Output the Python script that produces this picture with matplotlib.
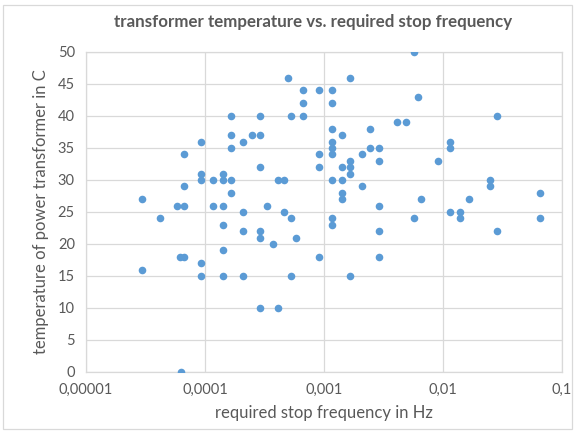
import matplotlib.pyplot as plt
from matplotlib.patches import Rectangle

# data (log x)
freq = [2.93e-5, 2.93e-5, 4.20e-5, 5.79e-5, 6.22e-5, 6.29e-5,
        6.67e-5, 6.67e-5, 6.67e-5, 6.67e-5,
        9.2e-5, 9.2e-5, 9.2e-5, 9.2e-5, 9.2e-5,
        1.167e-4, 1.167e-4,
        1.42e-4, 1.42e-4, 1.42e-4, 1.42e-4, 1.42e-4, 1.42e-4,
        1.643e-4, 1.643e-4, 1.643e-4, 1.643e-4, 1.643e-4,
        2.08e-4, 2.08e-4, 2.08e-4, 2.08e-4,
        2.50e-4,
        2.91e-4, 2.91e-4, 2.91e-4, 2.91e-4, 2.91e-4, 2.91e-4,
        3.33e-4, 3.72e-4, 4.11e-4, 4.11e-4, 4.59e-4, 4.59e-4, 4.96e-4,
        5.33e-4, 5.33e-4, 5.33e-4, 5.79e-4,
        6.63e-4, 6.63e-4, 6.63e-4,
        9.03e-4, 9.03e-4, 9.03e-4, 9.03e-4,
        1.16e-3, 1.16e-3, 1.16e-3, 1.16e-3, 1.16e-3, 1.16e-3, 1.16e-3, 1.16e-3, 1.16e-3,
        1.407e-3, 1.407e-3, 1.407e-3, 1.407e-3, 1.407e-3,
        1.655e-3, 1.655e-3, 1.655e-3, 1.655e-3, 1.655e-3,
        2.07e-3, 2.07e-3, 2.45e-3, 2.45e-3,
        2.90e-3, 2.90e-3, 2.90e-3, 2.90e-3, 2.90e-3,
        4.08e-3, 4.93e-3, 5.75e-3, 5.75e-3, 6.15e-3, 6.59e-3, 9.04e-3,
        0.0114, 0.0114, 0.0114, 0.01383, 0.01383, 0.01644,
        0.02466, 0.02466, 0.0284, 0.0284, 0.0652, 0.0652]
temp = [27, 16, 24, 26, 18, 0,
        26, 29, 34, 18,
        36, 31, 30, 17, 15,
        30, 26,
        31, 30, 26, 23, 19, 15,
        40, 37, 35, 30, 28,
        36, 25, 22, 15,
        37,
        40, 37, 32, 22, 21, 10,
        26, 20, 30, 10, 30, 25, 46,
        40, 24, 15, 21,
        44, 42, 40,
        44, 34, 32, 18,
        44, 42, 38, 36, 35, 34, 30, 24, 23,
        37, 32, 30, 28, 27,
        46, 33, 32, 31, 15,
        34, 29, 38, 35,
        35, 33, 26, 22, 18,
        39, 39, 50, 24, 43, 27, 33,
        36, 35, 25, 25, 24, 27,
        30, 29, 40, 22, 28, 24]

xticks = [1e-5, 1e-4, 1e-3, 1e-2, 1e-1]
xlabels = ['0,00001', '0,0001', '0,001', '0,01', '0,1']
yticks = list(range(0, 55, 5))

plt.rcParams['font.family'] = ['Lato', 'DejaVu Sans']
txt = '#595959'
grid = '#d9d9d9'

fig = plt.figure(figsize=(5.75, 4.34), dpi=100)
ax = fig.add_axes([0.1496, 0.1429, 0.8278, 0.7373])

ax.scatter(freq, temp, s=30, color='#5b9bd5', zorder=3, linewidths=0)

ax.set_xscale('log')
ax.set_xlim(1e-5, 1e-1)
ax.set_ylim(0, 50)
ax.set_xticks(xticks)
ax.set_xticklabels(xlabels)
ax.xaxis.set_minor_locator(plt.NullLocator())
ax.set_yticks(yticks)
ax.grid(True, color=grid, linewidth=0.9)
ax.set_axisbelow(True)
for s in ax.spines.values():
    s.set_color(grid)
    s.set_linewidth(0.9)
ax.tick_params(length=0, labelsize=10.5, colors=txt, pad=8)

fig.text(0.544, 0.949, 'transformer temperature vs. required stop frequency',
         fontsize=12.2, fontweight='bold', color=txt, ha='center', va='center')
ax.set_xlabel('required stop frequency in Hz', fontsize=12, color=txt, labelpad=6)
ax.set_ylabel('temperature of power transformer in C', fontsize=12, color=txt, labelpad=6)

fig.patches.append(Rectangle((0.006, 0.012), 0.988, 0.976, transform=fig.transFigure,
                             fill=False, edgecolor='#d9d9d9', linewidth=0.9))

fig.savefig('out.png', dpi=100)
